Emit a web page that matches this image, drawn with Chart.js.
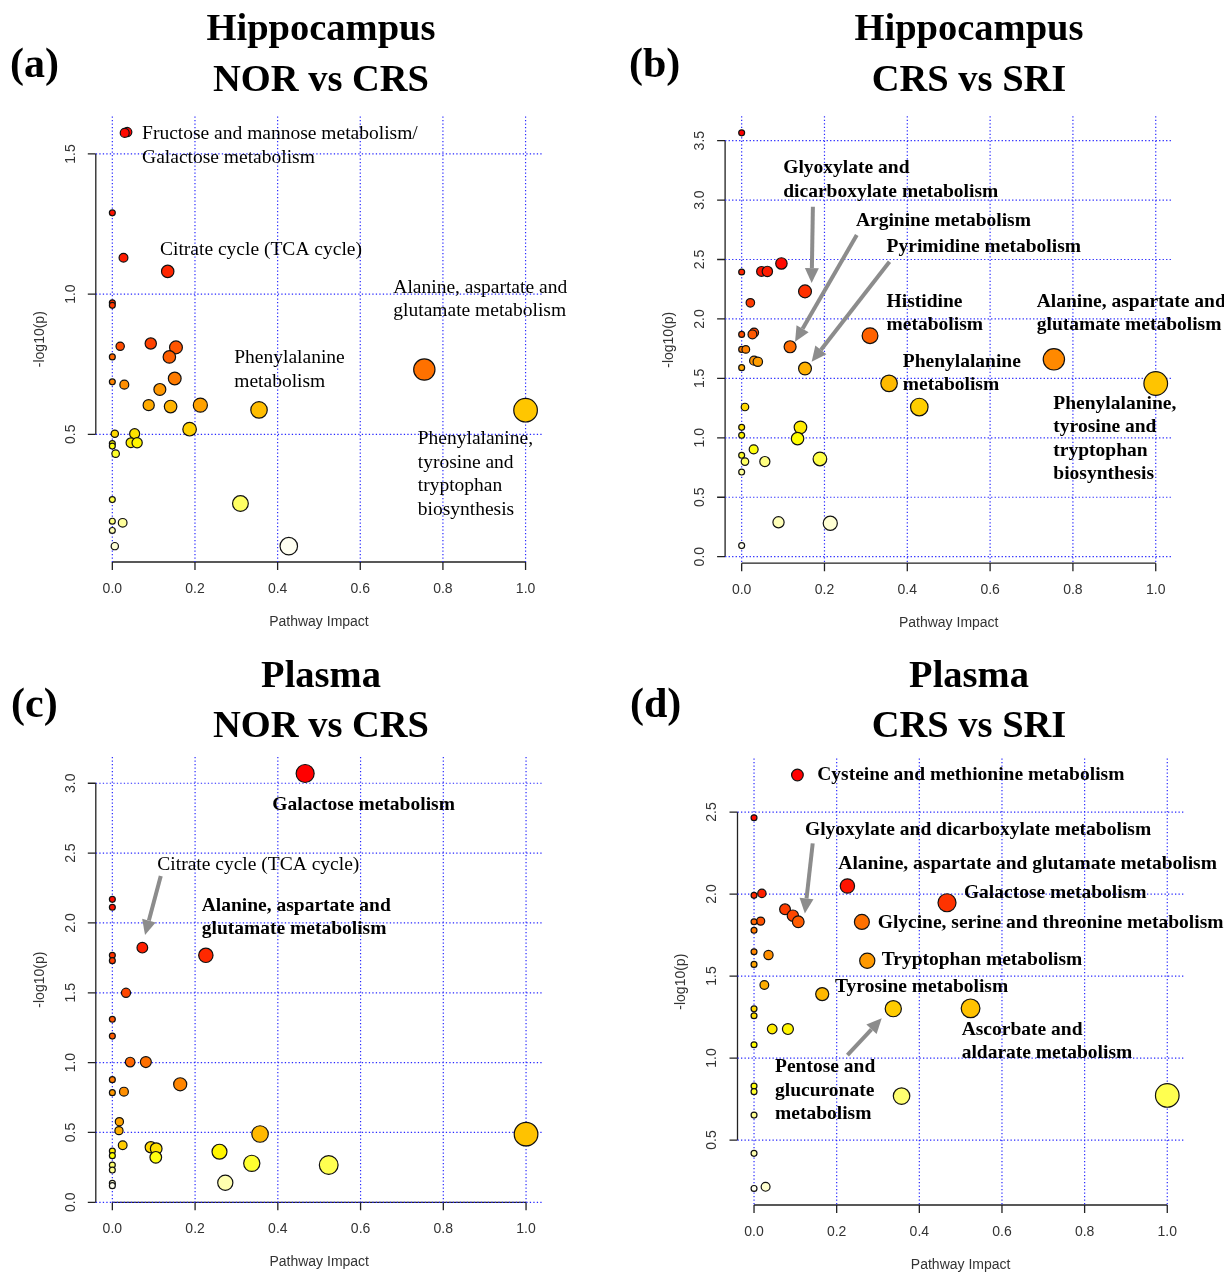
<!DOCTYPE html>
<html>
<head>
<meta charset="utf-8">
<title>Pathway analysis</title>
<script src="https://cdn.jsdelivr.net/npm/chart.js@4.4.0/dist/chart.umd.min.js"></script>
<style>
  html, body { margin: 0; padding: 0; background: #fff; }
  #page { position: relative; width: 1224px; height: 1274px; overflow: hidden; }
  canvas { position: absolute; left: 0; top: 0; }
  .ttl { position: absolute; font-family: "Liberation Serif", "Times New Roman", serif; font-weight: bold;
         font-size: 38.5px; line-height: 38.5px; white-space: nowrap; transform: translateX(-50%); color: #000; }
  .tag { position: absolute; font-family: "Liberation Serif", "Times New Roman", serif; font-weight: bold;
         font-size: 42px; line-height: 42px; color: #000; }
</style>
</head>
<body>
<div id="page">
  <canvas id="chartA" width="1224" height="1274"></canvas>
  <canvas id="chartB" width="1224" height="1274"></canvas>
  <canvas id="chartC" width="1224" height="1274"></canvas>
  <canvas id="chartD" width="1224" height="1274"></canvas>

  <div class="tag" style="left:10px;top:42px">(a)</div>
  <div class="ttl" style="left:321px;top:8px">Hippocampus</div>
  <div class="ttl" style="left:321px;top:59px">NOR vs CRS</div>

  <div class="tag" style="left:629px;top:42px">(b)</div>
  <div class="ttl" style="left:969px;top:8px">Hippocampus</div>
  <div class="ttl" style="left:969px;top:59px">CRS vs SRI</div>

  <div class="tag" style="left:11px;top:682px">(c)</div>
  <div class="ttl" style="left:321px;top:655px">Plasma</div>
  <div class="ttl" style="left:321px;top:705px">NOR vs CRS</div>

  <div class="tag" style="left:630px;top:682px">(d)</div>
  <div class="ttl" style="left:969px;top:655px">Plasma</div>
  <div class="ttl" style="left:969px;top:705px">CRS vs SRI</div>
</div>

<script>
// pathway impact (x) and -log10(p) (y) for each panel
const aImpact = [0.030, 0.036, 0, 0.027, 0.134, 0, 0, 0.093, 0.019, 0.154, 0.138, 0, 0.755, 0.151, 0, 0.029, 0.115, 0.213, 0.088, 0.141, 0.355, 1.0, 0.187, 0.006, 0.054, 0.045, 0.060, 0, 0, 0.008, 0, 0.310, 0, 0.025, 0, 0.006, 0.427]
const aLogP = [1.575, 1.578, 1.29, 1.13, 1.081, 0.969, 0.960, 0.824, 0.814, 0.810, 0.776, 0.776, 0.731, 0.699, 0.687, 0.677, 0.660, 0.604, 0.604, 0.599, 0.587, 0.586, 0.518, 0.502, 0.502, 0.470, 0.470, 0.467, 0.458, 0.431, 0.267, 0.253, 0.190, 0.184, 0.157, 0.101, 0.101]

const bImpact = [0, 0.096, 0.048, 0.062, 0, 0.153, 0.021, 0.030, 0, 0.026, 0.310, 0.117, 0, 0.010, 0.754, 0.030, 0.039, 0, 0.153, 0.356, 1.0, 0.429, 0.008, 0, 0.142, 0, 0.135, 0.029, 0, 0.189, 0.008, 0.056, 0, 0.089, 0.214, 0]
const bLogP = [3.566, 2.467, 2.400, 2.400, 2.395, 2.232, 2.136, 1.885, 1.870, 1.870, 1.859, 1.766, 1.744, 1.744, 1.660, 1.649, 1.640, 1.590, 1.583, 1.458, 1.457, 1.259, 1.259, 1.088, 1.088, 1.021, 0.993, 0.903, 0.853, 0.822, 0.800, 0.800, 0.712, 0.289, 0.281, 0.093]

const cImpact = [0.466, 0, 0, 0.0725, 0.226, 0, 0, 0.033, 0, 0, 0.043, 0.081, 0, 0.164, 0.028, 0, 0.017, 0.016, 0.357, 1.0, 0.025, 0.093, 0.106, 0, 0.259, 0, 0.105, 0.337, 0.523, 0, 0, 0.273, 0, 0]
const cLogP = [3.070, 2.169, 2.112, 1.823, 1.768, 1.768, 1.730, 1.500, 1.310, 1.190, 1.004, 1.004, 0.878, 0.845, 0.792, 0.785, 0.577, 0.513, 0.489, 0.488, 0.408, 0.394, 0.384, 0.367, 0.362, 0.334, 0.322, 0.279, 0.267, 0.267, 0.231, 0.140, 0.136, 0.119]

const dImpact = [0.105, 0, 0.226, 0.019, 0, 0.467, 0.075, 0.094, 0.016, 0.107, 0, 0.261, 0, 0, 0.035, 0.274, 0, 0.025, 0.165, 0.524, 0.337, 0, 0, 0.044, 0.082, 0, 0, 0, 1.0, 0.357, 0, 0, 0.028, 0]
const dLogP = [2.726, 2.465, 2.049, 2.004, 1.992, 1.947, 1.907, 1.868, 1.835, 1.831, 1.831, 1.830, 1.779, 1.648, 1.628, 1.593, 1.571, 1.445, 1.390, 1.303, 1.301, 1.300, 1.258, 1.177, 1.177, 1.081, 0.829, 0.795, 0.772, 0.768, 0.652, 0.419, 0.215, 0.205]

// tick values
const xTicks = [0, 0.2, 0.4, 0.6, 0.8, 1.0]
const aYTicks = [0.5, 1.0, 1.5]
const bYTicks = [0.0, 0.5, 1.0, 1.5, 2.0, 2.5, 3.0, 3.5]
const cYTicks = [0.0, 0.5, 1.0, 1.5, 2.0, 2.5, 3.0]
const dYTicks = [0.5, 1.0, 1.5, 2.0, 2.5]

// pathway names written on the plots (anchor = left / middle of first line, in data units)
const aNotes = [
  { lines: ['Fructose and mannose metabolism/', 'Galactose metabolism'], x: 0.072, y: 1.571 },
  { lines: ['Citrate cycle (TCA cycle)'], x: 0.1154, y: 1.1575 },
  { lines: ['Alanine, aspartate and', 'glutamate metabolism'], x: 0.680, y: 1.023 },
  { lines: ['Phenylalanine', 'metabolism'], x: 0.295, y: 0.771 },
  { lines: ['Phenylalanine,', 'tyrosine and', 'tryptophan', 'biosynthesis'], x: 0.739, y: 0.482 }
]
const bNotes = [
  { lines: ['Glyoxylate and', 'dicarboxylate metabolism'], x: 0.1005, y: 3.268, bold: true },
  { lines: ['Arginine metabolism'], x: 0.276, y: 2.827, bold: true },
  { lines: ['Pyrimidine metabolism'], x: 0.350, y: 2.608, bold: true },
  { lines: ['Histidine', 'metabolism'], x: 0.350, y: 2.145, bold: true },
  { lines: ['Phenylalanine', 'metabolism'], x: 0.389, y: 1.641, bold: true },
  { lines: ['Alanine, aspartate and', 'glutamate metabolism'], x: 0.7126, y: 2.145, bold: true },
  { lines: ['Phenylalanine,', 'tyrosine and', 'tryptophan', 'biosynthesis'], x: 0.7527, y: 1.285, bold: true }
]
const cNotes = [
  { lines: ['Galactose metabolism'], x: 0.3868, y: 2.845, bold: true },
  { lines: ['Citrate cycle (TCA cycle)'], x: 0.1088, y: 2.415 },
  { lines: ['Alanine, aspartate and', 'glutamate metabolism'], x: 0.2161, y: 2.121, bold: true }
]
const dNotes = [
  { lines: ['Cysteine and methionine metabolism'], x: 0.153, y: 2.726, bold: true },
  { lines: ['Glyoxylate and dicarboxylate metabolism'], x: 0.1234, y: 2.390, bold: true },
  { lines: ['Alanine, aspartate and glutamate metabolism'], x: 0.204, y: 2.181, bold: true },
  { lines: ['Galactose metabolism'], x: 0.508, y: 2.004, bold: true },
  { lines: ['Glycine, serine and threonine metabolism'], x: 0.2993, y: 1.821, bold: true },
  { lines: ['Tryptophan metabolism'], x: 0.309, y: 1.598, bold: true },
  { lines: ['Tyrosine metabolism'], x: 0.196, y: 1.431, bold: true },
  { lines: ['Ascorbate and', 'aldarate metabolism'], x: 0.5025, y: 1.171, bold: true },
  { lines: ['Pentose and', 'glucuronate', 'metabolism'], x: 0.0508, y: 0.943, bold: true }
]

// grey arrows [x0, y0, x1, y1] in data units
const bArrows = [[0.172, 2.944, 0.169, 2.302], [0.278, 2.706, 0.129, 1.808], [0.357, 2.481, 0.169, 1.640]]
const cArrows = [[0.117, 2.336, 0.079, 1.913]]
const dArrows = [[0.142, 2.309, 0.123, 1.882], [0.226, 1.018, 0.309, 1.242]]

const W = 1224, H = 1274

const panels = [
  { canvas: 'chartA', impact: aImpact, logp: aLogP, yTicks: aYTicks, notes: aNotes, arrows: [],
    area: { left: 95.8, top: 116.4, right: 542.1, bottom: 562 }, ylim: [0.0444, 1.634] },
  { canvas: 'chartB', impact: bImpact, logp: bLogP, yTicks: bYTicks, notes: bNotes, arrows: bArrows,
    area: { left: 725.1, top: 116.3, right: 1172.3, bottom: 563.2 }, ylim: [-0.055, 3.705] },
  { canvas: 'chartC', impact: cImpact, logp: cLogP, yTicks: cYTicks, notes: cNotes, arrows: cArrows,
    area: { left: 95.8, top: 757, right: 542.6, bottom: 1202.3 }, ylim: [0, 3.188] },
  { canvas: 'chartD', impact: dImpact, logp: dLogP, yTicks: dYTicks, notes: dNotes, arrows: dArrows,
    area: { left: 737.5, top: 758.4, right: 1183.8, bottom: 1205 }, ylim: [0.104, 2.827] }
]

// R's heat.colors(n)
function heatColors(n) {
  const j = Math.floor(n / 4), i = n - j, cols = []
  for (let k = 0; k < i; k++) {
    const g = Math.round(255 * (i > 1 ? k / (i - 1) : 0))
    cols.push(`rgb(255,${g},0)`)
  }
  const s0 = 1 - 1 / (2 * j), s1 = 1 / (2 * j)
  for (let k = 0; k < j; k++) {
    const s = j > 1 ? s0 + (s1 - s0) * k / (j - 1) : s0
    cols.push(`rgb(255,255,${Math.round(255 * (1 - s))})`)
  }
  return cols
}

const serif = '"Liberation Serif", "Times New Roman", serif'
const sans = '"Liberation Sans", Arial, sans-serif'

// circle radius grows with sqrt(impact), in x units like symbols() in R
function bubbleRadius(ctx) {
  const sx = ctx.chart.scales.x
  const ppu = sx.getPixelForValue(1) - sx.getPixelForValue(0)
  const v = ctx.raw ? ctx.raw.x : 0
  return ppu * (1 / 140 + (3 / 140) * Math.sqrt(v))
}

function rPlot(p) {
  return {
    id: 'rPlot',
    beforeDatasetsDraw(chart) {
      const { ctx, chartArea: a } = chart
      const x = chart.scales.x, y = chart.scales.y
      ctx.save()
      // axes, R style
      ctx.strokeStyle = '#222'
      ctx.lineWidth = 1.3
      ctx.beginPath()
      const yt = p.yTicks
      ctx.moveTo(a.left, y.getPixelForValue(yt[0]))
      ctx.lineTo(a.left, y.getPixelForValue(yt[yt.length - 1]))
      yt.forEach(v => {
        const py = y.getPixelForValue(v)
        ctx.moveTo(a.left - 8, py); ctx.lineTo(a.left, py)
      })
      ctx.moveTo(x.getPixelForValue(xTicks[0]), a.bottom)
      ctx.lineTo(x.getPixelForValue(xTicks[xTicks.length - 1]), a.bottom)
      xTicks.forEach(v => {
        const px = x.getPixelForValue(v)
        ctx.moveTo(px, a.bottom); ctx.lineTo(px, a.bottom + 8)
      })
      ctx.stroke()

      ctx.fillStyle = '#333'
      ctx.font = '14px ' + sans
      ctx.textAlign = 'center'
      ctx.textBaseline = 'middle'
      xTicks.forEach(v => ctx.fillText(v.toFixed(1), x.getPixelForValue(v), a.bottom + 27))
      yt.forEach(v => {
        ctx.save()
        ctx.translate(a.left - 25, y.getPixelForValue(v))
        ctx.rotate(-Math.PI / 2)
        ctx.fillText(v.toFixed(1), 0, 0)
        ctx.restore()
      })
      ctx.fillText('Pathway Impact', (a.left + a.right) / 2, a.bottom + 60)
      ctx.save()
      ctx.translate(a.left - 56, (a.top + a.bottom) / 2)
      ctx.rotate(-Math.PI / 2)
      ctx.fillText('-log10(p)', 0, 0)
      ctx.restore()

      // dotted blue grid
      ctx.strokeStyle = 'rgb(40,40,255)'
      ctx.lineWidth = 1.2
      ctx.setLineDash([1.3, 2.2])
      ctx.beginPath()
      xTicks.forEach(v => {
        const px = x.getPixelForValue(v)
        ctx.moveTo(px, a.top); ctx.lineTo(px, a.bottom)
      })
      yt.forEach(v => {
        const py = y.getPixelForValue(v)
        ctx.moveTo(a.left, py); ctx.lineTo(a.right, py)
      })
      ctx.stroke()
      ctx.restore()
    },
    afterDatasetsDraw(chart) {
      const { ctx } = chart
      const x = chart.scales.x, y = chart.scales.y
      ctx.save()
      ctx.fillStyle = '#000'
      ctx.textAlign = 'left'
      ctx.textBaseline = 'middle'
      p.notes.forEach(n => {
        ctx.font = (n.bold ? 'bold ' : '') + '19.5px ' + serif
        const px = x.getPixelForValue(n.x), py = y.getPixelForValue(n.y)
        n.lines.forEach((t, k) => ctx.fillText(t, px, py + k * 23.4))
      })
      // arrows
      ctx.strokeStyle = '#8c8c8c'
      ctx.fillStyle = '#8c8c8c'
      ctx.lineWidth = 4
      p.arrows.forEach(([vx0, vy0, vx1, vy1]) => {
        const x0 = x.getPixelForValue(vx0), y0 = y.getPixelForValue(vy0)
        const x1 = x.getPixelForValue(vx1), y1 = y.getPixelForValue(vy1)
        const ang = Math.atan2(y1 - y0, x1 - x0)
        const hl = 15, hw = 7
        const bx = x1 - hl * Math.cos(ang), by = y1 - hl * Math.sin(ang)
        ctx.beginPath(); ctx.moveTo(x0, y0); ctx.lineTo(bx, by); ctx.stroke()
        ctx.beginPath()
        ctx.moveTo(x1, y1)
        ctx.lineTo(bx + hw * Math.sin(ang), by - hw * Math.cos(ang))
        ctx.lineTo(bx - hw * Math.sin(ang), by + hw * Math.cos(ang))
        ctx.closePath(); ctx.fill()
      })
      ctx.restore()
    }
  }
}

panels.forEach(p => {
  const n = p.logp.length
  // rank by -log10(p), highest first, as MetaboAnalyst does
  const order = p.logp.map((v, i) => i).sort((i, j) => p.logp[j] - p.logp[i])
  const heat = heatColors(n)
  const points = order.map(i => ({ x: p.impact[i], y: p.logp[i] }))
  const colors = order.map((i, r) => heat[r])

  new Chart(document.getElementById(p.canvas), {
    type: 'scatter',
    data: {
      datasets: [{
        data: points,
        clip: false,
        pointBackgroundColor: colors,
        pointBorderColor: '#111',
        pointBorderWidth: 1.2,
        pointRadius: bubbleRadius,
        pointHoverRadius: bubbleRadius
      }]
    },
    options: {
      responsive: false,
      animation: false,
      events: [],
      layout: { padding: { left: p.area.left, top: p.area.top, right: W - p.area.right, bottom: H - p.area.bottom } },
      plugins: { legend: { display: false }, tooltip: { enabled: false } },
      scales: {
        x: { type: 'linear', min: -0.04, max: 1.04, display: false },
        y: { type: 'linear', min: p.ylim[0], max: p.ylim[1], display: false }
      }
    },
    plugins: [rPlot(p)]
  })
})
</script>
</body>
</html>
